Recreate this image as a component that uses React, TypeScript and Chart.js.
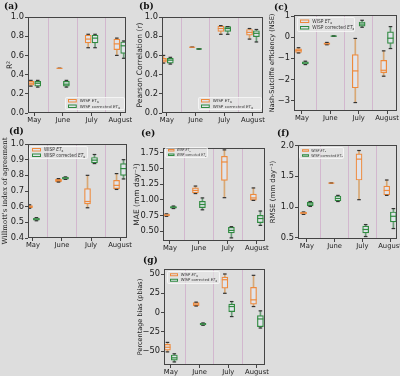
import React, { useEffect, useRef } from 'react';
import { Chart, registerables } from 'chart.js';

Chart.register(...registerables);

const months = ['May', 'June', 'July', 'August'];
const monthPositions = [1, 2, 3, 4];
const separatorPositions = [1.5, 2.5, 3.5];

// box statistics per month: [min, q1, median, q3, max]
const r2Wisp = [[0.28, 0.29, 0.31, 0.33, 0.34], [0.465, 0.465, 0.465, 0.465, 0.465], [0.68, 0.73, 0.77, 0.81, 0.82], [0.6, 0.66, 0.72, 0.77, 0.78]];
const r2Corrected = [[0.27, 0.28, 0.31, 0.33, 0.34], [0.27, 0.28, 0.3, 0.33, 0.34], [0.68, 0.73, 0.78, 0.81, 0.82], [0.57, 0.62, 0.7, 0.74, 0.75]];
const r2Ticks = [0, 0.2, 0.4, 0.6, 0.8, 1.0];

const rWisp = [[0.52, 0.53, 0.55, 0.57, 0.6], [0.685, 0.685, 0.685, 0.685, 0.685], [0.82, 0.85, 0.88, 0.905, 0.91], [0.77, 0.81, 0.84, 0.87, 0.88]];
const rCorrected = [[0.51, 0.52, 0.55, 0.57, 0.58], [0.667, 0.667, 0.667, 0.667, 0.667], [0.82, 0.85, 0.88, 0.9, 0.9], [0.74, 0.795, 0.83, 0.857, 0.87]];
const rTicks = [0, 0.2, 0.4, 0.6, 0.8, 1.0];

const nseWisp = [[-0.75, -0.72, -0.63, -0.55, -0.5], [-0.36, -0.34, -0.31, -0.27, -0.25], [-3.1, -2.4, -1.6, -0.83, -0.06], [-1.85, -1.68, -1.57, -1.1, -0.65]];
const nseCorrected = [[-1.3, -1.27, -1.22, -1.17, -1.14], [0.04, 0.045, 0.05, 0.055, 0.06], [0.47, 0.52, 0.62, 0.72, 0.8], [-0.54, -0.3, -0.05, 0.25, 0.5]];
const nseTicks = [-3, -2, -1, 0, 1];

const dWisp = [[0.59, 0.593, 0.6, 0.607, 0.612], [0.757, 0.76, 0.768, 0.776, 0.779], [0.593, 0.618, 0.633, 0.715, 0.8], [0.71, 0.715, 0.736, 0.768, 0.811]];
const dCorrected = [[0.51, 0.514, 0.52, 0.526, 0.53], [0.774, 0.776, 0.782, 0.788, 0.79], [0.875, 0.88, 0.897, 0.914, 0.933], [0.777, 0.8, 0.843, 0.875, 0.9]];
const dTicks = [0.4, 0.5, 0.6, 0.7, 0.8, 0.9, 1.0];

const maeWisp = [[0.735, 0.745, 0.755, 0.77, 0.775], [1.1, 1.11, 1.15, 1.19, 1.22], [1.034, 1.312, 1.606, 1.697, 1.8], [0.99, 0.995, 1.03, 1.09, 1.19]];
const maeCorrected = [[0.86, 0.865, 0.88, 0.89, 0.9], [0.84, 0.875, 0.925, 0.975, 1.03], [0.39, 0.47, 0.51, 0.56, 0.57], [0.59, 0.635, 0.7, 0.75, 0.82]];
const maeTicks = [0.5, 0.75, 1.0, 1.25, 1.5, 1.75];

const rmseWisp = [[0.88, 0.89, 0.905, 0.915, 0.92], [1.39, 1.39, 1.39, 1.39, 1.39], [1.12, 1.44, 1.78, 1.865, 1.92], [1.19, 1.2, 1.27, 1.34, 1.44]];
const rmseCorrected = [[1.01, 1.02, 1.05, 1.08, 1.09], [1.09, 1.1, 1.14, 1.18, 1.19], [0.52, 0.58, 0.635, 0.69, 0.715], [0.65, 0.76, 0.85, 0.92, 0.975]];
const rmseTicks = [0.5, 1.0, 1.5, 2.0];

const pbiasWisp = [[-51, -48.7, -45, -41.3, -38.7], [8.5, 9, 11, 13, 13.5], [25, 31.7, 42.6, 46, 50], [7.8, 10.9, 16.5, 32.6, 48.3]];
const pbiasCorrected = [[-64, -61.7, -58.7, -55, -53.5], [-16.5, -16, -15, -14, -13.5], [-5.2, 1.3, 7.8, 10.9, 14.3], [-20, -18.3, -8.3, -3.9, 2.2]];
const pbiasTicks = [-50, -25, 0, 25, 50];

const BG = '#dddddd';
const ORANGE = '#ee8a3c';
const GREEN = '#2f8a3f';
const ORANGE_WHISKER = 'rgba(214,150,80,0.75)';
const GREEN_WHISKER = 'rgba(60,130,80,0.7)';
const BOX_FILL = '#e1e4eb';
const CAP = '#333333';
const FRAME = '#444444';
const SEP = 'rgba(205,170,200,0.75)';
const TEXT = '#222222';
const SANS = "'DejaVu Sans', sans-serif";
const SERIF = "'DejaVu Serif', serif";
const OFFSET = 0.12;

type Legend = { x: number; y: number; w: number; h: number; size: number };
type Panel = {
  key: string; label: string; labelX: number; labelY: number;
  wisp: number[][]; corr: number[][]; ticks: number[]; dec: number;
  yMin: number; yMax: number; xMin: number; xMax: number;
  L: number; T: number; R: number; B: number;
  title: string; titleX: number; titleSize: number; titleFamily: string;
  legend: Legend;
};

const panels: Panel[] = [
  { key: 'a', label: '(a)', labelX: 4, labelY: 2, wisp: r2Wisp, corr: r2Corrected, ticks: r2Ticks, dec: 1, yMin: 0, yMax: 1.0, xMin: 0.78, xMax: 4.2, L: 28, T: 17, R: 126, B: 113, title: 'R²', titleX: 10, titleSize: 7.5, titleFamily: SANS, legend: { x: 65, y: 97, w: 60, h: 13, size: 4.2 } },
  { key: 'b', label: '(b)', labelX: 139, labelY: 2, wisp: rWisp, corr: rCorrected, ticks: rTicks, dec: 1, yMin: 0, yMax: 1.0, xMin: 0.83, xMax: 4.35, L: 162, T: 17, R: 263, B: 113, title: 'Pearson Correlation (r)', titleX: 140, titleSize: 7.5, titleFamily: SANS, legend: { x: 198, y: 97, w: 64, h: 13, size: 4.2 } },
  { key: 'c', label: '(c)', labelX: 274, labelY: 3, wisp: nseWisp, corr: nseCorrected, ticks: nseTicks, dec: 0, yMin: -3.5, yMax: 1.05, xMin: 0.72, xMax: 4.35, L: 294, T: 15, R: 397, B: 111, title: 'Nash-Sutcliffe efficiency (NSE)', titleX: 272, titleSize: 6.5, titleFamily: SANS, legend: { x: 297, y: 17, w: 58, h: 15, size: 4.4 } },
  { key: 'd', label: '(d)', labelX: 9, labelY: 127, wisp: dWisp, corr: dCorrected, ticks: dTicks, dec: 1, yMin: 0.4, yMax: 1.0, xMin: 0.83, xMax: 4.24, L: 28, T: 144, R: 127, B: 238, title: "Willmott's index of agreement", titleX: 5, titleSize: 7, titleFamily: SERIF, legend: { x: 29, y: 146, w: 59, h: 13, size: 4.3 } },
  { key: 'e', label: '(e)', labelX: 141, labelY: 129, wisp: maeWisp, corr: maeCorrected, ticks: maeTicks, dec: 2, yMin: 0.34, yMax: 1.83, xMin: 0.76, xMax: 4.28, L: 163, T: 148, R: 265, B: 241, title: 'MAE (mm day⁻¹)', titleX: 137, titleSize: 7.5, titleFamily: SANS, legend: { x: 165, y: 147, w: 43, h: 11, size: 3.1 } },
  { key: 'f', label: '(f)', labelX: 277, labelY: 129, wisp: rmseWisp, corr: rmseCorrected, ticks: rmseTicks, dec: 1, yMin: 0.48, yMax: 2.01, xMin: 0.68, xMax: 4.25, L: 298, T: 145, R: 397, B: 239, title: 'RMSE (mm day⁻¹)', titleX: 273, titleSize: 7, titleFamily: SANS, legend: { x: 299, y: 147, w: 45, h: 12, size: 3.3 } },
  { key: 'g', label: '(g)', labelX: 143, labelY: 256, wisp: pbiasWisp, corr: pbiasCorrected, ticks: pbiasTicks, dec: 0, yMin: -68, yMax: 56.5, xMin: 0.76, xMax: 4.28, L: 164, T: 269, R: 265, B: 365, title: 'Percentage bias (pbias)', titleX: 140, titleSize: 6.5, titleFamily: SANS, legend: { x: 167, y: 271, w: 53, h: 13, size: 3.8 } },
];

const PAD_TOP = 12;
const X_AXIS_H = 12;
const PAD_RIGHT = 12;
const LEGEND_SCALE = 4;

function geometry(p: Panel) {
  const lh = p.titleSize * 1.2;
  const left = Math.round(p.titleX - lh / 2);
  const yW = p.L - left;
  const top = p.T - PAD_TOP;
  const width = Math.ceil(yW + (p.R - p.L) + PAD_RIGHT);
  const padRight = width - yW - (p.R - p.L);
  const height = PAD_TOP + (p.B - p.T) + X_AXIS_H;
  return { left, top, width, height, yW, padRight };
}

function series(stats: number[][], offset: number, color: string, whisker: string) {
  const xs = monthPositions.map((m) => m + offset);
  return [
    {
      type: 'scatter', order: 1,
      data: stats.map((s, i) => ({ x: xs[i], y: s[2] })),
      pointStyle: 'line', pointRadius: 3, pointHoverRadius: 3,
      pointBorderColor: color, pointBorderWidth: 1.2, pointBackgroundColor: color,
    },
    {
      type: 'scatter', order: 2,
      data: stats.flatMap((s, i) => [{ x: xs[i], y: s[0] }, { x: xs[i], y: s[4] }]),
      pointStyle: 'line', pointRadius: 1.8, pointHoverRadius: 1.8,
      pointBorderColor: CAP, pointBorderWidth: 1.2, pointBackgroundColor: CAP,
    },
    {
      type: 'bar', order: 3,
      data: stats.map((s, i) => ({ x: xs[i], y: [s[1], s[3]] })),
      backgroundColor: BOX_FILL, borderColor: color, borderWidth: 1.2,
      borderSkipped: false, barThickness: 6, grouped: false,
    },
    {
      type: 'bar', order: 4,
      data: stats.flatMap((s, i) => [{ x: xs[i], y: [s[0], s[1]] }, { x: xs[i], y: [s[3], s[4]] }]),
      backgroundColor: whisker, borderWidth: 0, barThickness: 1, grouped: false,
    },
  ];
}

const framePlugin = {
  id: 'frame',
  afterDraw(chart: any) {
    const { ctx, chartArea } = chart;
    const { left, top, right, bottom } = chartArea;
    ctx.save();
    ctx.strokeStyle = FRAME;
    ctx.lineWidth = 1;
    ctx.strokeRect(Math.round(left) + 0.5, Math.round(top) + 0.5, Math.round(right - left) - 1, Math.round(bottom - top) - 1);
    ctx.restore();
  },
};

function formatTick(v: number, dec: number) {
  return v.toFixed(dec).replace('-', '−');
}

function PanelChart({ p }: { p: Panel }) {
  const ref = useRef<HTMLCanvasElement>(null);
  const g = geometry(p);
  useEffect(() => {
    const datasets: any[] = [
      ...series(p.wisp, -OFFSET, ORANGE, ORANGE_WHISKER),
      ...series(p.corr, OFFSET, GREEN, GREEN_WHISKER),
    ];
    const xTickValues = [...monthPositions, ...separatorPositions].sort((a, b) => a - b);
    const chart = new Chart(ref.current as HTMLCanvasElement, {
      type: 'bar',
      data: { datasets },
      options: {
        responsive: false,
        maintainAspectRatio: false,
        animation: false,
        devicePixelRatio: 1,
        events: [],
        layout: { padding: { top: PAD_TOP, right: g.padRight, left: 0, bottom: 0 } },
        plugins: { legend: { display: false }, tooltip: { enabled: false } },
        scales: {
          x: {
            type: 'linear', min: p.xMin, max: p.xMax, offset: false,
            afterBuildTicks: (s: any) => { s.ticks = xTickValues.map((v) => ({ value: v })); },
            afterFit: (s: any) => { s.height = X_AXIS_H; },
            ticks: {
              autoSkip: false, maxRotation: 0, minRotation: 0, padding: 0,
              color: TEXT, font: { family: SANS, size: 6.8 },
              callback: (v: any) => {
                const i = monthPositions.indexOf(Number(v));
                return i >= 0 ? months[i] : '';
              },
            },
            grid: {
              offset: false, drawTicks: true, tickLength: 3, lineWidth: 1,
              color: (c: any) => (c.tick && monthPositions.indexOf(c.tick.value) < 0 ? SEP : 'rgba(0,0,0,0)'),
              tickColor: (c: any) => (c.tick && monthPositions.indexOf(c.tick.value) >= 0 ? FRAME : 'rgba(0,0,0,0)'),
            },
            border: { display: false },
          },
          y: {
            type: 'linear', min: p.yMin, max: p.yMax, stacked: false, beginAtZero: false,
            afterBuildTicks: (s: any) => { s.ticks = p.ticks.map((v) => ({ value: v })); },
            afterFit: (s: any) => { s.width = g.yW; },
            ticks: {
              padding: 1, color: TEXT, font: { family: SANS, size: 8.3 },
              callback: (v: any) => formatTick(Number(v), p.dec),
            },
            grid: { drawOnChartArea: false, drawTicks: true, tickLength: 3, tickColor: FRAME, color: 'rgba(0,0,0,0)' },
            border: { display: false },
            title: { display: true, text: p.title, color: TEXT, padding: 0, font: { family: p.titleFamily, size: p.titleSize } },
          },
        },
      } as any,
      plugins: [framePlugin],
    });
    return () => chart.destroy();
  }, []);
  return (
    <canvas
      ref={ref}
      width={g.width}
      height={g.height}
      style={{ position: 'absolute', left: g.left, top: g.top, width: g.width, height: g.height }}
    />
  );
}

function LegendBox({ l }: { l: Legend }) {
  const k = LEGEND_SCALE;
  const fs = l.size * k;
  const rowH = ((l.h - 2) * k) / 2;
  const row = (color: string, corrected: boolean) => (
    <div style={{ display: 'flex', alignItems: 'center', height: rowH }}>
      <span style={{ display: 'inline-block', flex: 'none', boxSizing: 'border-box', width: fs * 2.1, height: fs * 0.8, border: `${k}px solid ${color}`, background: BOX_FILL, marginRight: fs * 0.7 }} />
      <span>
        WISP {corrected ? 'corrected ' : ''}<i>ET</i>
        <sub style={{ fontSize: fs * 0.7, verticalAlign: 'sub', lineHeight: 0 }}>a</sub>
      </span>
    </div>
  );
  return (
    <div style={{ position: 'absolute', left: l.x, top: l.y, width: l.w, height: l.h, boxSizing: 'border-box', border: '1px solid rgba(248,248,248,0.8)', borderRadius: 2, background: 'rgba(232,232,232,0.6)', overflow: 'hidden' }}>
      <div style={{ position: 'absolute', left: 0, top: 0, width: (l.w - 2) * k, height: (l.h - 2) * k, transform: `scale(${1 / k})`, transformOrigin: '0 0', fontFamily: SANS, fontSize: fs, color: '#333', lineHeight: 1, whiteSpace: 'nowrap', paddingLeft: 2 * k, boxSizing: 'border-box' }}>
        {row(ORANGE, false)}
        {row(GREEN, true)}
      </div>
    </div>
  );
}

export default function App() {
  useEffect(() => {
    document.body.style.background = BG;
  }, []);
  return (
    <div style={{ position: 'absolute', left: 0, top: 0, width: 400, height: 376, background: BG, overflow: 'hidden' }}>
      {panels.map((p) => (
        <React.Fragment key={p.key}>
          <PanelChart p={p} />
          <div style={{ position: 'absolute', left: p.labelX, top: p.labelY, fontFamily: SERIF, fontWeight: 'bold', fontSize: 9, lineHeight: 1, color: '#111' }}>{p.label}</div>
          <LegendBox l={p.legend} />
        </React.Fragment>
      ))}
    </div>
  );
}
